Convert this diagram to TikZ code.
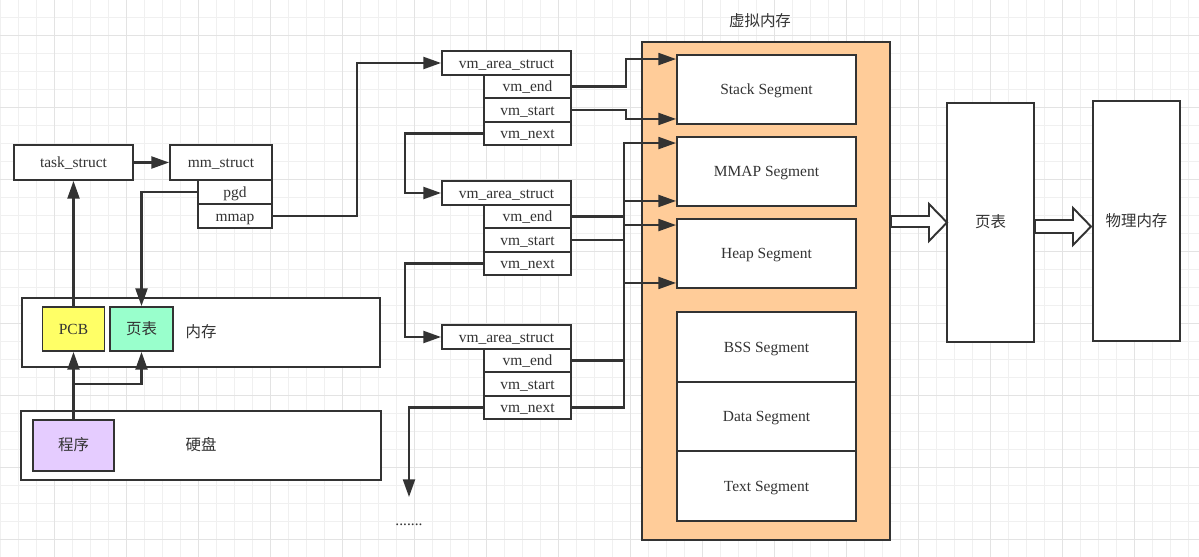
\documentclass[tikz,border=0pt]{standalone}
\usepackage{fontspec}
\setmainfont{Liberation Serif}
\newfontfamily\cjk{Noto Sans CJK SC}
\usepackage{xcolor}
\usetikzlibrary{arrows.meta}
\definecolor{linec}{HTML}{333333}
\definecolor{vmc}{HTML}{FFCC99}
\definecolor{pcbc}{HTML}{FFFF66}
\definecolor{ptc}{HTML}{99FFCC}
\definecolor{progc}{HTML}{E5CCFF}

\begin{document}
\begin{tikzpicture}[x=0.02cm, y=-0.02cm,
  every node/.style={draw=linec, line width=1.1pt, fill=white, inner sep=0pt, text=linec,
    text height=8pt, text depth=1.9pt, font=\fontsize{8.8}{10}\selectfont},
  wh/.style 2 args={minimum width=#1*0.02cm, minimum height=#2*0.02cm},
  lbl/.style={draw=none, fill=none},
  arr/.style={draw=linec, line width=1.2pt, -{Triangle[length=10pt,width=6.8pt]}},
  blockarr/.style={draw=linec, line width=1.1pt, fill=white},
  minorg/.style={draw=black!6, line width=0.5pt},
  majorg/.style={draw=black!11, line width=0.5pt}]
\useasboundingbox (0,0) rectangle (1199,557);
% grid
\foreach \x in {0,18,...,1198} \draw[minorg] (\x,0) -- (\x,557);
\foreach \y in {17,35,...,557} \draw[minorg] (0,\y) -- (1199,\y);
\foreach \x in {54,126,...,1198} \draw[majorg] (\x,0) -- (\x,557);
\foreach \y in {35,107,...,557} \draw[majorg] (0,\y) -- (1199,\y);

% process side
\node[wh={119}{35}] (task) at (73.5,162.5) {task\_struct};
\node[wh={102}{35}] (mm) at (221,162.5) {mm\_struct};
\node[wh={74}{24}] (pgd) at (235,192) {pgd};
\node[wh={74}{24}] (mmap) at (235,216) {mmap};

\node[wh={358}{69}] (mem) at (201,332.5) {\cjk 内存};
\node[wh={62}{44}, fill=pcbc] (pcb) at (73.5,329) {PCB};
\node[wh={63}{44}, fill=ptc] (pt) at (141.5,329) {\cjk 页表};
\node[wh={360}{69}] (disk) at (201,445.5) {\cjk 硬盘};
\node[wh={81}{51}, fill=progc] (prog) at (73.5,445.5) {\cjk 程序};

\draw[arr] (task) -- (mm);
\draw[arr] (pcb.north) -- (pcb.north |- task.south);
\draw[arr] (pgd.west) -| (pt.north);
\draw[arr] (prog.north) -- (prog.north |- pcb.south);
\draw[arr] (prog.north) ++(0,-35) -| (pt.south);

% vm_area_struct list
\foreach \n/\t in {1/51, 2/181, 3/325} {
  \node[wh={129}{24}] (area\n) at (506.5,\t+12) {vm\_area\_struct};
  \node[wh={87}{23.5}] (end\n) at (527.5,\t+35.5) {vm\_end};
  \node[wh={87}{23.5}] (start\n) at (527.5,\t+59) {vm\_start};
  \node[wh={87}{23.5}] (next\n) at (527.5,\t+82.5) {vm\_next};
}
\coordinate (more) at (409,497);
\node[lbl] (dots) at (409,520) {.......};

\draw[arr] (mmap.east) -- ++(84,0) |- (area1.west);
\draw[arr] (next1.west) -- ++(-78,0) |- (area2.west);
\draw[arr] (next2.west) -- ++(-78,0) |- (area3.west);
\draw[arr] (next3.west) -| (more);

% virtual memory
\node[lbl] (vmtitle) at (760,21) {\cjk 虚拟内存};
\node[wh={248}{498}, fill=vmc] (vm) at (766,291) {};
\node[wh={179}{69}] (stack) at (766.5,89.5) {Stack Segment};
\node[wh={179}{69}] (mmapseg) at (766.5,171.5) {MMAP Segment};
\node[wh={179}{69}] (heap) at (766.5,253.5) {Heap Segment};
\node[wh={179}{70}] (bss) at (766.5,347) {BSS Segment};
\node[wh={179}{69}] (data) at (766.5,416.5) {Data Segment};
\node[wh={179}{70}] (text) at (766.5,486) {Text Segment};

\draw[arr] (end1.east) -- ++(54,0) |- ([yshift=-0.1cm]stack.north west);
\draw[arr] (start1.east) -- ++(54,0) |- ([yshift=0.12cm]stack.south west);
\draw[arr] (end2.east) -- ++(52,0) |- ([yshift=-0.14cm]mmapseg.north west);
\draw[arr] (start2.east) -- ++(52,0) |- ([yshift=0.12cm]mmapseg.south west);
\draw[arr] (end3.east) -- ++(52,0) |- ([yshift=-0.14cm]heap.north west);
\draw[arr] (next3.east) -- ++(52,0) |- ([yshift=0.12cm]heap.south west);

% page table and physical memory
\node[wh={87}{239}] (ptbig) at (990.5,222.5) {\cjk 页表};
\node[wh={87}{240}] (phys) at (1136.5,221) {\cjk 物理内存};
\draw[blockarr] (891,216) -- (929,216) -- (929,204) -- (947,222.5) -- (929,241) -- (929,227) -- (891,227) -- cycle;
\draw[blockarr] (1035,220) -- (1073,220) -- (1073,208) -- (1091,226.5) -- (1073,245) -- (1073,233) -- (1035,233) -- cycle;
\end{tikzpicture}
\end{document}
